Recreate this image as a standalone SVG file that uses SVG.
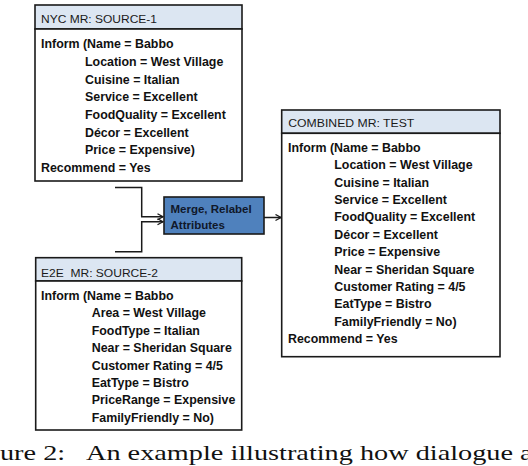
<svg xmlns="http://www.w3.org/2000/svg" width="528" height="466" viewBox="0 0 528 466">
<style>
.hdr{fill:#dce6f2;stroke:#1a1a1a;stroke-width:1.6}
.body{fill:#ffffff;stroke:#1a1a1a;stroke-width:1.6}
.ht{font-family:"Liberation Sans",Arial,sans-serif;font-size:11.6px;fill:#1a1a1a}
.bt{font-family:"Liberation Sans",Arial,sans-serif;font-size:12.4px;font-weight:bold;fill:#111}
.mt{font-family:"Liberation Sans",Arial,sans-serif;font-size:11.5px;font-weight:bold;fill:#10182a}
.conn{fill:none;stroke:#1a1a1a;stroke-width:1.5}
.cap{font-family:"Liberation Serif","Times New Roman",serif;font-size:22px;fill:#111}
</style>
<defs>
<marker id="ah" markerUnits="userSpaceOnUse" markerWidth="8" markerHeight="8" refX="6" refY="3.5" orient="auto">
<path d="M0.5,0.5 L6,3.5 L0.5,6.5" fill="none" stroke="#1a1a1a" stroke-width="1.3"/>
</marker>
</defs>

<g id="connectors">
<path class="conn" d="M115,187.5 H141.7 V216.8 H163" marker-end="url(#ah)"/>
<path class="conn" d="M115,251.7 H141.7 V221.8 H163" marker-end="url(#ah)"/>
<path class="conn" d="M264,217.5 H281" marker-end="url(#ah)"/>
</g>

<g id="nyc-source-1">
<rect class="hdr" x="35" y="5" width="207" height="24"/>
<rect class="body" x="35" y="29" width="207" height="152"/>
<text class="ht" x="41" y="22.7" textLength="116" lengthAdjust="spacingAndGlyphs">NYC MR: SOURCE-1</text>
<text class="bt" x="41" y="48.3">Inform (Name = Babbo</text>
<text class="bt" x="85" y="65.9">Location = West Village</text>
<text class="bt" x="85" y="83.6">Cuisine = Italian</text>
<text class="bt" x="85" y="101.2">Service = Excellent</text>
<text class="bt" x="85" y="118.8">FoodQuality = Excellent</text>
<text class="bt" x="85" y="136.5">Décor = Excellent</text>
<text class="bt" x="85" y="154.1">Price = Expensive)</text>
<text class="bt" x="41" y="171.7">Recommend = Yes</text>
</g>

<g id="merge-relabel">
<rect x="164" y="197" width="100" height="37" fill="#4f81bd" stroke="#1a1a1a" stroke-width="1.6"/>
<text class="mt" x="170.5" y="213">Merge, Relabel</text>
<text class="mt" x="170.5" y="228.5">Attributes</text>
</g>

<g id="e2e-source-2">
<rect class="hdr" x="35.7" y="257.7" width="206" height="23.3"/>
<rect class="body" x="35.7" y="281" width="206" height="149"/>
<text class="ht" x="41" y="276.5" textLength="117" lengthAdjust="spacingAndGlyphs">E2E&#160; MR: SOURCE-2</text>
<text class="bt" x="41" y="300">Inform (Name = Babbo</text>
<text class="bt" x="91.7" y="317.4">Area = West Village</text>
<text class="bt" x="91.7" y="334.8">FoodType = Italian</text>
<text class="bt" x="91.7" y="352.2">Near = Sheridan Square</text>
<text class="bt" x="91.7" y="369.6">Customer Rating = 4/5</text>
<text class="bt" x="91.7" y="387">EatType = Bistro</text>
<text class="bt" x="91.7" y="404.4">PriceRange = Expensive</text>
<text class="bt" x="91.7" y="421.8">FamilyFriendly = No)</text>
</g>

<g id="combined-test">
<rect class="hdr" x="281.7" y="110" width="218.3" height="23.3"/>
<rect class="body" x="281.7" y="133.3" width="218.3" height="223.4"/>
<text class="ht" x="288.3" y="127.3" textLength="126" lengthAdjust="spacingAndGlyphs">COMBINED MR: TEST</text>
<text class="bt" x="288" y="151.7">Inform (Name = Babbo</text>
<text class="bt" x="334.3" y="169.1">Location = West Village</text>
<text class="bt" x="334.3" y="186.5">Cuisine = Italian</text>
<text class="bt" x="334.3" y="203.9">Service = Excellent</text>
<text class="bt" x="334.3" y="221.3">FoodQuality = Excellent</text>
<text class="bt" x="334.3" y="238.7">Décor = Excellent</text>
<text class="bt" x="334.3" y="256.1">Price = Expensive</text>
<text class="bt" x="334.3" y="273.5">Near = Sheridan Square</text>
<text class="bt" x="334.3" y="290.9">Customer Rating = 4/5</text>
<text class="bt" x="334.3" y="308.3">EatType = Bistro</text>
<text class="bt" x="334.3" y="325.7">FamilyFriendly = No)</text>
<text class="bt" x="288" y="343.1">Recommend = Yes</text>
</g>

<g id="caption">
<text class="cap" x="-37.7" y="460" textLength="102.8" lengthAdjust="spacingAndGlyphs">Figure 2:</text>
<text class="cap" x="86" y="460" textLength="446.6" lengthAdjust="spacingAndGlyphs">An example illustrating how dialogue a</text>
</g>
</svg>
